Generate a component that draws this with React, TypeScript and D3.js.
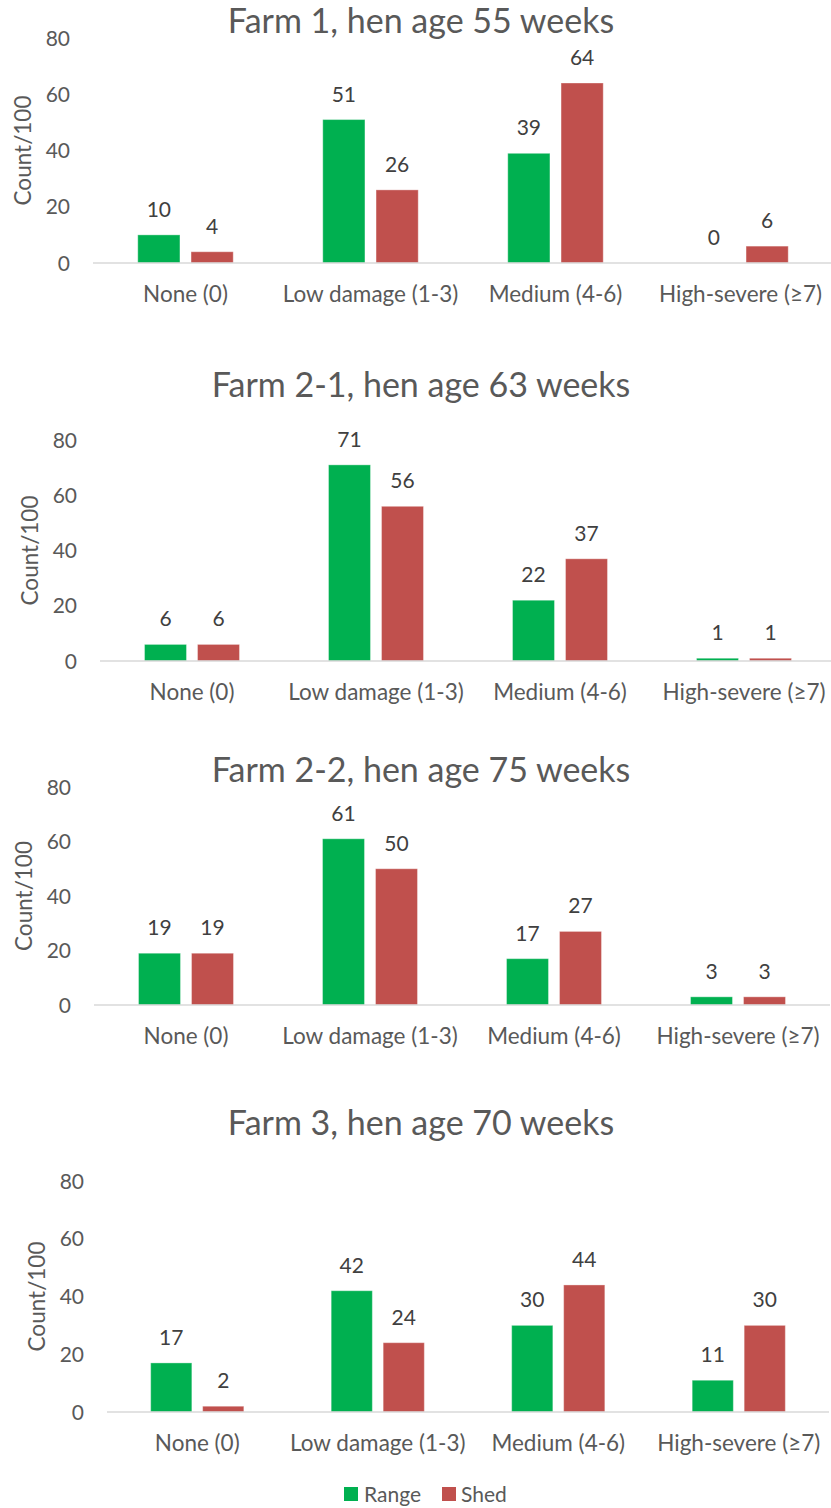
import React from "react";
import * as d3 from "d3";

const categories = ["None (0)", "Low damage (1-3)", "Medium (4-6)", "High-severe (\u22657)"];
const seriesNames = ["Range", "Shed"];
const yTicks = [0, 20, 40, 60, 80];

const titles = [
  "Farm 1, hen age 55 weeks",
  "Farm 2-1, hen age 63 weeks",
  "Farm 2-2, hen age 75 weeks",
  "Farm 3, hen age 70 weeks",
];
const rangeValues = [
  [10, 51, 39, 0],
  [6, 71, 22, 1],
  [19, 61, 17, 3],
  [17, 42, 30, 11],
];
const shedValues = [
  [4, 26, 64, 6],
  [6, 56, 37, 1],
  [19, 50, 27, 3],
  [2, 24, 44, 30],
];

const COLORS = ["#00B050", "#C0504D"];
const FONT = "Lato, 'Open Sans', sans-serif";
const W = 831;
const H = 1508;

// panel layout: plot left, right, y of zero, y of 80, title baseline
const layouts = [
  { x0: 93, x1: 833, yZero: 263, yTop: 38, titleY: 33 },
  { x0: 100, x1: 836, yZero: 661, yTop: 440, titleY: 397 },
  { x0: 94, x1: 830, yZero: 1005, yTop: 787, titleY: 782 },
  { x0: 107, x1: 829, yZero: 1412, yTop: 1181, titleY: 1135 },
];

function Panel({ idx }: { idx: number }) {
  const L = layouts[idx];
  const x = d3.scaleBand<string>().domain(categories).range([L.x0, L.x1]).paddingInner(0).paddingOuter(0);
  const y = d3.scaleLinear().domain([0, 80]).range([L.yZero, L.yTop]);
  const bw = x.bandwidth() * 0.228;
  const gap = x.bandwidth() * 0.06;
  const series = [rangeValues[idx], shedValues[idx]];
  return (
    <g>
      <text x={421} y={L.titleY} textAnchor="middle" fontSize={34} fill="#595959" fontFamily={FONT}>
        {titles[idx]}
      </text>
      {yTicks.map((t) => (
        <text key={t} x={L.x0 - 23} y={y(t)} dy="0.36em" textAnchor="end" fontSize={21} fill="#595959" fontFamily={FONT}>
          {t}
        </text>
      ))}
      <text
        transform={`translate(${L.x0 - 70},${(L.yZero + L.yTop) / 2}) rotate(-90)`}
        textAnchor="middle"
        dy="0.36em"
        fontSize={22.5}
        fill="#595959"
        fontFamily={FONT}
      >
        Count/100
      </text>
      {categories.map((c, ci) => {
        const cx = (x(c) as number) + x.bandwidth() / 2;
        const gx = cx - (2 * bw + gap) / 2;
        return (
          <g key={c}>
            {series.map((vals, si) => {
              const v = vals[ci];
              const bx = gx + si * (bw + gap);
              return (
                <g key={si}>
                  {v > 0 && (
                    <rect x={bx} y={y(v)} width={bw} height={L.yZero - y(v)} fill={COLORS[si]} stroke="#ffffff" strokeOpacity={0.35} strokeWidth={1} />
                  )}
                  <text x={bx + bw / 2} y={y(v) - 18} textAnchor="middle" fontSize={21} fill="#404040" fontFamily={FONT}>
                    {v}
                  </text>
                </g>
              );
            })}
            <text x={cx} y={L.yZero + 39} textAnchor="middle" fontSize={22.5} fill="#595959" fontFamily={FONT}>
              {c}
            </text>
          </g>
        );
      })}
      <line x1={L.x0} x2={Math.min(L.x1, W)} y1={L.yZero} y2={L.yZero} stroke="#D9D9D9" strokeWidth={1.5} />
    </g>
  );
}

export default function App() {
  const legendItems = [
    { name: seriesNames[0], sx: 344, tx: 364 },
    { name: seriesNames[1], sx: 442, tx: 461 },
  ];
  return (
    <svg width={W} height={H} style={{ position: "absolute", left: 0, top: 0, background: "#fff" }}>
      <rect width={W} height={H} fill="#fff" />
      {titles.map((_, i) => (
        <Panel key={i} idx={i} />
      ))}
      {legendItems.map((l, i) => (
        <g key={l.name}>
          <rect x={l.sx} y={1487} width={14} height={14} fill={COLORS[i]} />
          <text x={l.tx} y={1494} dy="0.36em" fontSize={21} fill="#595959" fontFamily={FONT}>
            {l.name}
          </text>
        </g>
      ))}
    </svg>
  );
}
